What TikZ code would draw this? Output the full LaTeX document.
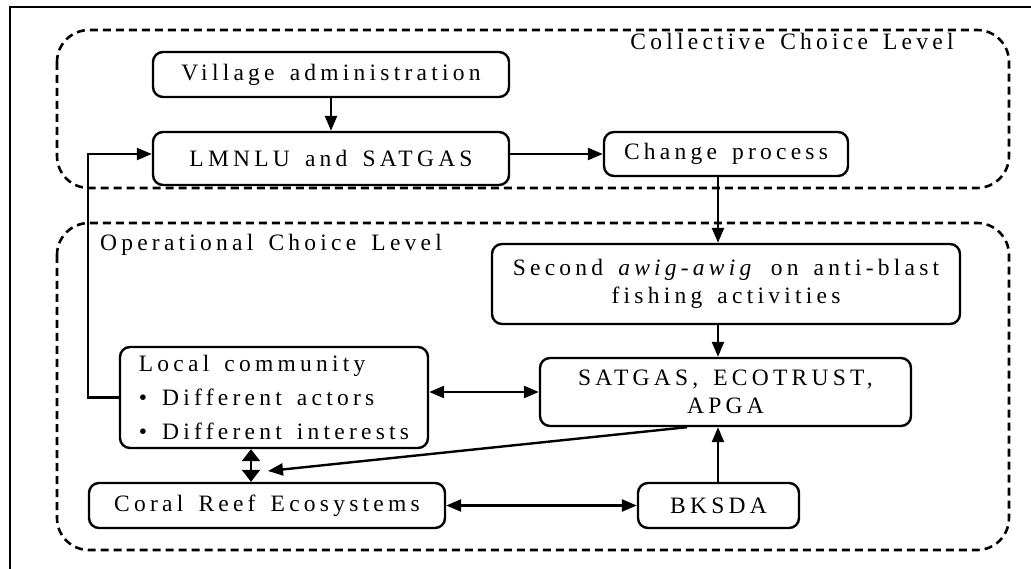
\documentclass[tikz,border=0pt]{standalone}
\usepackage{fontspec}
\setmainfont{Liberation Serif}[LetterSpace=18,WordSpace=1.5]
\usetikzlibrary{arrows.meta}
\begin{document}
\begin{tikzpicture}[x=1pt,y=-1pt,
  box/.style={draw, line width=2.4pt, rounded corners=10pt, inner sep=0pt,
    align=center, font=\fontsize{23.5}{28}\selectfont},
  zone/.style={draw, line width=2.6pt, dash pattern=on 8pt off 5pt, rounded corners=32pt},
  lbl/.style={inner sep=0pt, font=\fontsize{23.5}{28}\selectfont},
  arr/.style={line width=2.4pt, -{Triangle[length=15pt,width=12pt]}},
  dbl/.style={line width=2.4pt, {Triangle[length=15pt,width=12pt]}-{Triangle[length=15pt,width=12pt]}},
  fat/.style={line width=2.4pt, {Triangle[length=12pt,width=18pt]}-{Triangle[length=12pt,width=18pt]}}
]
\useasboundingbox (0,0) rectangle (1031,569);

% outer frame
\draw[line width=2pt] (10,575) -- (10,7) -- (1040,7);

% the two choice levels
\draw[zone] (57,30) rectangle (1009,188);
\draw[zone] (57,223) rectangle (1009,550);
\node[lbl] (cl) at (792,41) {Collective Choice Level};
\node[lbl] (ol) at (271,245) {Operational Choice Level};

% helper columns for the vertical connectors
\coordinate (ax) at (718,0);
\coordinate (dx) at (687,0);
\coordinate (vx) at (251,0);
\coordinate (tip) at (268,471);

% boxes
\node[box, minimum width=356pt, minimum height=45pt] (vil) at (331,74.5) {Village administration};
\node[box, minimum width=356pt, minimum height=53pt] (lm) at (331,158.5) {LMNLU and SATGAS};
\node[box, minimum width=244pt, minimum height=44pt] (cp) at (726,154) {Change process};
\node[box, minimum width=468pt, minimum height=80pt] (sec) at (726,284)
  {Second \textit{awig-awig} on anti-blast\\fishing activities};
\node[box, minimum width=371pt, minimum height=68pt] (sat) at (725.5,392)
  {SATGAS, ECOTRUST,\\APGA};
\node[box, minimum width=308pt, minimum height=101pt, align=left,
  font=\fontsize{23.5}{34}\selectfont] (loc) at (274,397.5)
  {Local community\\\textbullet\ Different actors\\\textbullet\ Different interests};
\node[box, minimum width=356pt, minimum height=45pt] (cor) at (267,505.5) {Coral Reef Ecosystems};
\node[box, minimum width=161pt, minimum height=45pt] (bk) at (718.5,505.5) {BKSDA};

% connectors
\draw[arr] (vil) -- (lm);
\draw[arr] (lm.east |- cp.west) -- (cp.west);
\draw[arr] (loc.west) -- ++(-31,0) |- (lm.west |- cp.west);
\draw[arr] (ax |- cp.south) -- (ax |- sec.north);
\draw[arr] (ax |- sec.south) -- (ax |- sat.north);
\draw[dbl] (loc.east |- sat.west) -- (sat.west);
\draw[arr] (dx |- sat.south) -- (tip);
\draw[fat] (vx |- loc.south) -- (vx |- cor.north);
\draw[dbl] (cor.east) -- (bk.west);
\draw[arr] (ax |- bk.north) -- (ax |- sat.south);
\end{tikzpicture}
\end{document}
